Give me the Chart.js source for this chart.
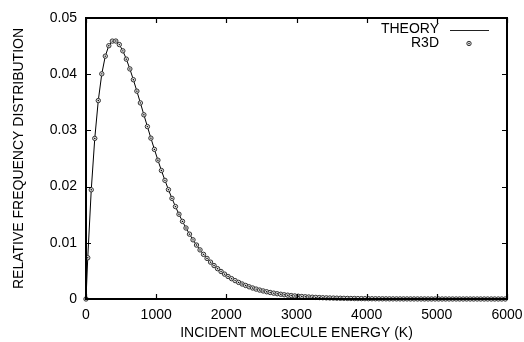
<!DOCTYPE html>
<html><head><meta charset="utf-8">
<script src="https://cdn.jsdelivr.net/npm/chart.js@4/dist/chart.umd.min.js"></script>
<style>html,body{margin:0;padding:0;background:#fff}#wrap{width:524px;height:342px}</style>
</head><body><div id="wrap"><canvas id="c" width="524" height="342"></canvas></div>
<script>
const energies = [0,
25,75,125,175,225,275,325,375,425,475,
525,575,625,675,725,775,825,875,925,975,
1025,1075,1125,1175,1225,1275,1325,1375,1425,1475,
1525,1575,1625,1675,1725,1775,1825,1875,1925,1975,
2025,2075,2125,2175,2225,2275,2325,2375,2425,2475,
2525,2575,2625,2675,2725,2775,2825,2875,2925,2975,
3025,3075,3125,3175,3225,3275,3325,3375,3425,3475,
3525,3575,3625,3675,3725,3775,3825,3875,3925,3975,
4025,4075,4125,4175,4225,4275,4325,4375,4425,4475,
4525,4575,4625,4675,4725,4775,4825,4875,4925,4975,
5025,5075,5125,5175,5225,5275,5325,5375,5425,5475,
5525,5575,5625,5675,5725,5775,5825,5875,5925,5975];
const theory = [0,
0.007339,0.019430,0.028579,0.035309,0.040063,0.043212,0.045068,0.045891,0.045899,0.045271,
0.044157,0.042680,0.040940,0.039019,0.036985,0.034890,0.032777,0.030679,0.028621,0.026623,
0.024699,0.022861,0.021113,0.019460,0.017904,0.016445,0.015082,0.013812,0.012632,0.011539,
0.010528,0.009596,0.008737,0.007947,0.007223,0.006559,0.005951,0.005396,0.004889,0.004426,
0.004005,0.003622,0.003273,0.002957,0.002669,0.002409,0.002172,0.001958,0.001764,0.001589,
0.001431,0.001288,0.001158,0.001042,0.000937,0.000842,0.000757,0.000679,0.000610,0.000548,
0.000492,0.000441,0.000396,0.000354,0.000317,0.000285,0.000255,0.000229,0.000204,0.000183,
0.000164,0.000146,0.000131,0.000117,0.000105,0.000094,0.000084,0.000075,0.000067,0.000060,
0.000053,0.000047,0.000042,0.000037,0.000033,0.000029,0.000026,0.000023,0.000020,0.000018,
0.000016,0.000014,0.000012,0.000011,0.000010,0.000009,0.000008,0.000007,0.000006,0.000005,
0.000005,0.000004,0.000004,0.000003,0.000003,0.000003,0.000002,0.000002,0.000002,0.000002,
0.000001,0.000001,0.000001,0.000001,0.000001,0.000001,0.000001,0.000001,0.000001,0.000001];
const r3d = [0,
0.007339,0.019430,0.028579,0.035309,0.040063,0.043212,0.045068,0.045891,0.045899,0.045271,
0.044157,0.042680,0.040940,0.039019,0.036985,0.034890,0.032777,0.030679,0.028621,0.026623,
0.024699,0.022861,0.021113,0.019460,0.017904,0.016445,0.015082,0.013812,0.012632,0.011539,
0.010528,0.009596,0.008737,0.007947,0.007223,0.006559,0.005951,0.005396,0.004889,0.004426,
0.004005,0.003622,0.003273,0.002957,0.002669,0.002409,0.002172,0.001958,0.001764,0.001589,
0.001431,0.001288,0.001158,0.001042,0.000937,0.000842,0.000757,0.000679,0.000610,0.000548,
0.000492,0.000441,0.000396,0.000354,0.000317,0.000285,0.000255,0.000229,0.000204,0.000183,
0.000164,0.000146,0.000131,0.000117,0.000105,0.000094,0.000084,0.000075,0.000067,0.000060,
0.000053,0.000047,0.000042,0.000037,0.000033,0.000029,0.000026,0.000023,0.000020,0.000018,
0.000016,0.000014,0.000012,0.000011,0.000010,0.000009,0.000008,0.000007,0.000006,0.000005,
0.000005,0.000004,0.000004,0.000003,0.000003,0.000003,0.000002,0.000002,0.000002,0.000002,
0.000001,0.000001,0.000001,0.000001,0.000001,0.000001,0.000001,0.000001,0.000001,0.000001];
const xTicks = [0,1000,2000,3000,4000,5000,6000];
const yTicks = [0,0.01,0.02,0.03,0.04,0.05];
const xTitle = 'INCIDENT MOLECULE ENERGY (K)';
const yTitle = 'RELATIVE FREQUENCY DISTRIBUTION';
const seriesNames = ['THEORY','R3D'];

const FONT = '"Liberation Sans", Arial, Helvetica, sans-serif';
const FS = 14;
const theoryPts = energies.map((e,i)=>({x:e,y:theory[i]}));
const r3dPts = energies.map((e,i)=>({x:e,y:r3d[i]}));

const framePlugin = {
  id:'frame',
  afterDatasetsDraw(chart){
    const {ctx, chartArea:a, scales:{x,y}} = chart;
    ctx.save();
    ctx.strokeStyle = '#000';
    ctx.lineWidth = 1.2;
    ctx.beginPath();
    xTicks.forEach(v=>{
      const px = Math.round(x.getPixelForValue(v))+0.5;
      ctx.moveTo(px,a.bottom); ctx.lineTo(px,a.bottom-5);
      ctx.moveTo(px,a.top); ctx.lineTo(px,a.top+5);
    });
    yTicks.forEach(v=>{
      const py = Math.round(y.getPixelForValue(v))+0.5;
      ctx.moveTo(a.left,py); ctx.lineTo(a.left+5,py);
      ctx.moveTo(a.right,py); ctx.lineTo(a.right-5,py);
    });
    ctx.stroke();
    ctx.lineWidth = 2;
    ctx.strokeRect(a.left, a.top, a.right-a.left, a.bottom-a.top);
    // legend
    ctx.fillStyle = '#000';
    ctx.font = FS + 'px ' + FONT;
    ctx.textAlign = 'right';
    ctx.textBaseline = 'middle';
    ctx.fillText(seriesNames[0], 439, 29);
    ctx.fillText(seriesNames[1], 439, 43);
    ctx.lineWidth = 1;
    ctx.strokeStyle = '#222';
    ctx.beginPath(); ctx.moveTo(450,30.5); ctx.lineTo(489,30.5); ctx.stroke();
    ctx.beginPath(); ctx.arc(469,43.5,2.2,0,Math.PI*2);
    ctx.fillStyle='#ddd'; ctx.fill(); ctx.strokeStyle='#333'; ctx.stroke();
    ctx.beginPath(); ctx.arc(469,43.5,0.7,0,Math.PI*2); ctx.fillStyle='#000'; ctx.fill();
    ctx.restore();
  }
};

new Chart(document.getElementById('c'), {
  type:'scatter',
  data:{datasets:[
    {label:seriesNames[0], data:theoryPts, showLine:true, borderColor:'#000', borderWidth:1, pointRadius:0, order:3, clip:false},
    {label:seriesNames[1], data:r3dPts, showLine:false, pointRadius:2.2, pointBorderWidth:1, pointBorderColor:'#333', pointBackgroundColor:'#ddd', order:2, clip:false},
    {label:'', data:r3dPts, showLine:false, pointRadius:0.7, pointBorderWidth:0, pointBackgroundColor:'#000', order:1, clip:false}
  ]},
  options:{
    responsive:false, animation:false, devicePixelRatio:1,
    layout:{padding:{top:18,right:17,left:0,bottom:0}},
    plugins:{legend:{display:false}, tooltip:{enabled:false}},
    scales:{
      x:{type:'linear', min:0, max:6000,
        afterBuildTicks(s){ s.ticks = xTicks.map(v=>({value:v})); },
        afterFit(s){ s.height = 43; s.paddingLeft = 0; s.paddingRight = 0; },
        grid:{display:false}, border:{display:false},
        ticks:{color:'#000', font:{family:FONT,size:FS}, padding:0, maxRotation:0, callback:v=>String(v)},
        title:{display:true, text:xTitle, color:'#000', font:{family:FONT,size:FS}, padding:{top:0,bottom:0}}
      },
      y:{type:'linear', min:0, max:0.05,
        afterBuildTicks(s){ s.ticks = yTicks.map(v=>({value:v})); },
        afterFit(s){ s.width = 86; s.paddingTop = 0; s.paddingBottom = 0; },
        grid:{display:false}, border:{display:false},
        ticks:{color:'#000', font:{family:FONT,size:FS}, padding:1, callback:v=>String(v)},
        title:{display:true, text:yTitle, color:'#000', font:{family:FONT,size:FS}, padding:{top:10.5,bottom:0}}
      }
    }
  },
  plugins:[framePlugin]
});
</script></body></html>
